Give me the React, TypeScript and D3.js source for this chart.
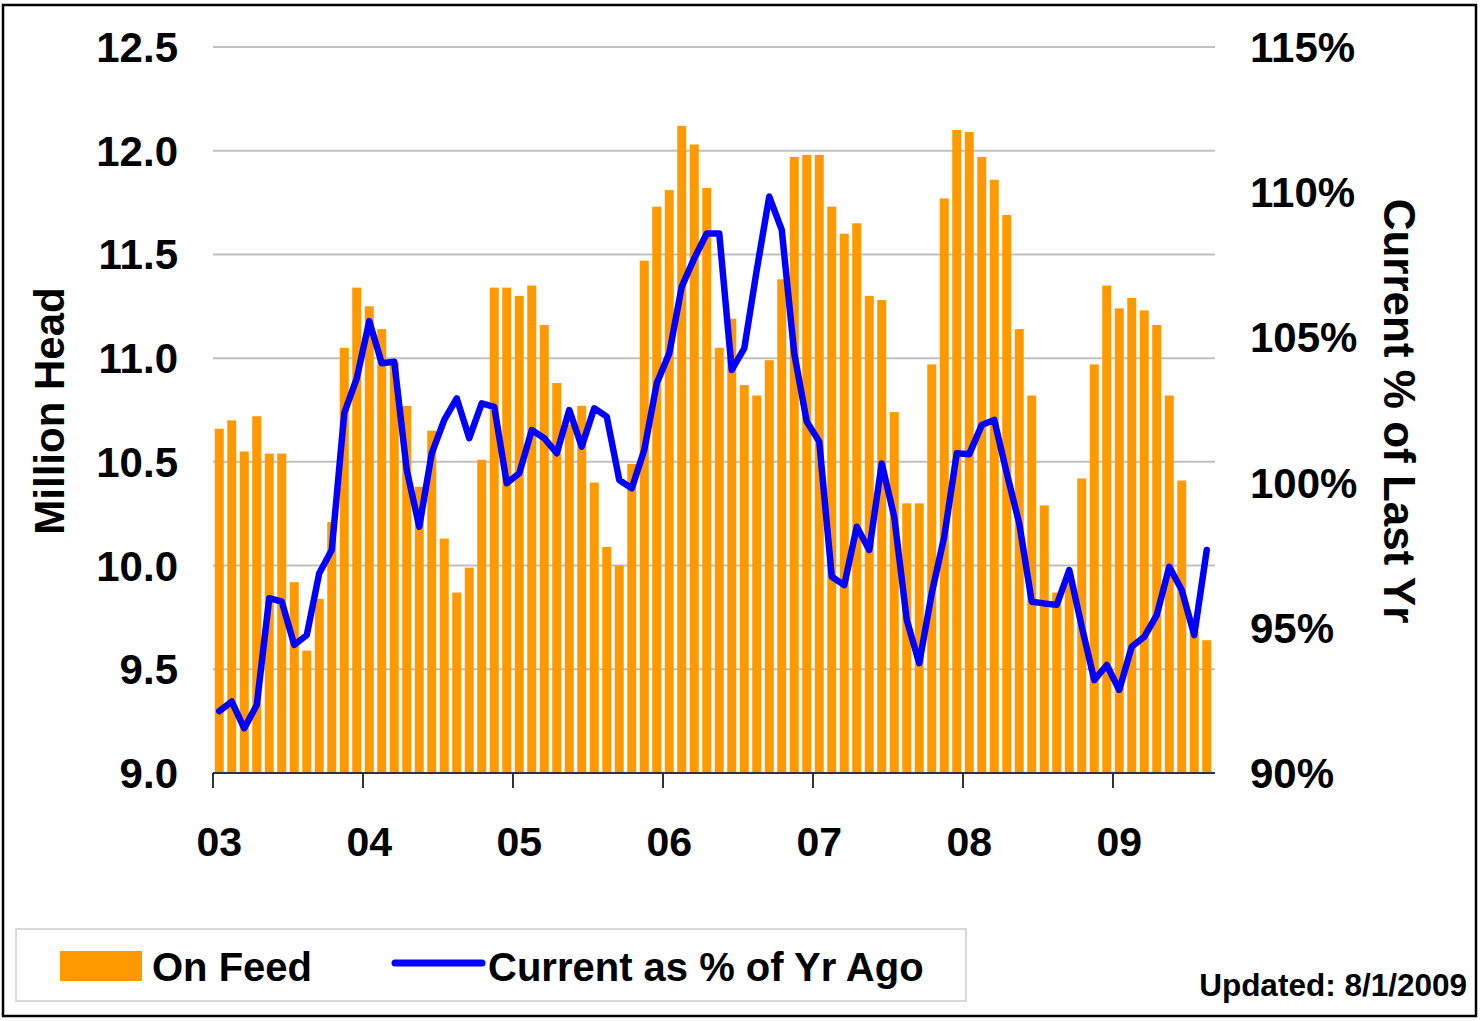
import React from "react";
import * as d3 from "d3";

// Monthly, Jan 2003 .. Aug 2009
const startYear = 2003;
const onFeed: number[] = [
  10.66, 10.70, 10.55, 10.72, 10.54, 10.54, 9.92, 9.59, 9.84, 10.21, 11.05, 11.34,
  11.25, 11.14, 10.98, 10.77, 10.38, 10.65, 10.13, 9.87, 9.99, 10.51, 11.34, 11.34,
  11.30, 11.35, 11.16, 10.88, 10.68, 10.77, 10.40, 10.09, 10.00, 10.49, 11.47, 11.73,
  11.81, 12.12, 12.03, 11.82, 11.05, 11.19, 10.87, 10.82, 10.99, 11.38, 11.97, 11.98,
  11.98, 11.73, 11.60, 11.65, 11.30, 11.28, 10.74, 10.30, 10.30, 10.97, 11.77, 12.10,
  12.09, 11.97, 11.86, 11.69, 11.14, 10.82, 10.29, 9.87, 9.95, 10.42, 10.97, 11.35,
  11.24, 11.29, 11.23, 11.16, 10.82, 10.41, 9.68, 9.64,
];
const pctOfYrAgo: number[] = [
  92.13, 92.46, 91.54, 92.34, 96.02, 95.9, 94.41, 94.75, 96.88, 97.68, 102.39, 103.59,
  105.56, 104.11, 104.16, 100.43, 98.48, 101.01, 102.16, 102.9, 101.53, 102.73, 102.61, 99.98,
  100.32, 101.81, 101.53, 101.01, 102.5, 101.24, 102.56, 102.27, 100.09, 99.8, 101.12, 103.42,
  104.45, 106.75, 107.72, 108.58, 108.58, 103.88, 104.62, 107.32, 109.85, 108.7, 104.45, 102.1,
  101.41, 96.76, 96.47, 98.48, 97.68, 100.66, 98.82, 95.27, 93.78, 96.19, 98.14, 101.01,
  100.98, 101.98, 102.16, 100.32, 98.59, 95.9, 95.84, 95.79, 96.99, 95.04, 93.2, 93.72,
  92.86, 94.35, 94.69, 95.44, 97.1, 96.3, 94.75, 97.68,
];
const leftTicks: number[] = [9.0, 9.5, 10.0, 10.5, 11.0, 11.5, 12.0, 12.5];
const rightTicks: number[] = [90, 95, 100, 105, 110, 115];
const yearLabels: string[] = ["03", "04", "05", "06", "07", "08", "09"];

const FONT = "'Liberation Sans', Arial, Helvetica, sans-serif";
const ORANGE = "#FF9900";
const BLUE = "#0000FF";

export default function App() {
  const W = 1480;
  const H = 1021;
  const x0 = 213;
  const x1 = 1213;
  const yTop = 47;
  const yBot = 773;

  const idx = onFeed.map((_, i) => i);
  const x = d3.scaleBand<number>().domain(idx).range([x0, x1]).paddingInner(0.28).paddingOuter(0.14);
  const step = x.step();
  const yL = d3.scaleLinear().domain([9, 12.5]).range([yBot, yTop]);
  const yR = d3.scaleLinear().domain([90, 115]).range([yBot, yTop]);

  const line = d3
    .line<number>()
    .x((_, i) => (x(i) as number) + x.bandwidth() / 2)
    .y((d) => yR(d));

  const fmtL = d3.format(".1f");

  return (
    <div style={{ position: "absolute", left: 0, top: 0 }}>
      <svg width={W} height={H} style={{ display: "block", background: "#fff" }} fontFamily={FONT}>
        <rect x={0} y={0} width={W} height={H} fill="#fff" />
        <rect x={3} y={5} width={W - 7} height={H - 10} fill="none" stroke="#000" strokeWidth={2.5} />

        {/* gridlines */}
        {leftTicks.slice(1).map((t) => (
          <line key={"g" + t} x1={x0} x2={x1 + 2} y1={yL(t)} y2={yL(t)} stroke="#c0c0c0" strokeWidth={2} />
        ))}

        {/* bars */}
        {onFeed.map((v, i) => (
          <rect
            key={"b" + i}
            x={x(i) as number}
            y={yL(v)}
            width={x.bandwidth()}
            height={yL(9) - yL(v)}
            fill={ORANGE}
          />
        ))}

        {/* axis */}
        <line x1={x0} x2={x1 + 2} y1={yBot} y2={yBot} stroke="#333" strokeWidth={2} />
        {yearLabels.map((lab, k) => {
          const tx = x0 + k * 12 * step;
          const lx = (x(k * 12) as number) + x.bandwidth() / 2;
          return (
            <g key={"yr" + lab}>
              <line x1={tx} x2={tx} y1={yBot} y2={yBot + 15} stroke="#333" strokeWidth={2} />
              <text x={lx} y={856} textAnchor="middle" fontSize={41} fontWeight="bold" fill="#000">
                {lab}
              </text>
            </g>
          );
        })}

        {/* line */}
        <path d={line(pctOfYrAgo) || ""} fill="none" stroke={BLUE} strokeWidth={6.5} strokeLinejoin="round" strokeLinecap="round" />

        {/* left ticks */}
        {leftTicks.map((t) => (
          <text key={"l" + t} x={178} y={yL(t) + 15} textAnchor="end" fontSize={42} fontWeight="bold" fill="#000">
            {fmtL(t)}
          </text>
        ))}
        {/* right ticks */}
        {rightTicks.map((t) => (
          <text key={"r" + t} x={1250} y={yR(t) + 15} textAnchor="start" fontSize={42} fontWeight="bold" fill="#000">
            {t + "%"}
          </text>
        ))}

        <text transform="translate(64,411) rotate(-90)" textAnchor="middle" fontSize={42} fontWeight="bold" fill="#000">
          Million Head
        </text>
        <text transform="translate(1384,411) rotate(90)" textAnchor="middle" fontSize={44} fontWeight="bold" fill="#000">
          Current % of Last Yr
        </text>

        {/* legend */}
        <rect x={16} y={929} width={950} height={72} fill="#fff" stroke="#d9d9d9" strokeWidth={2} />
        <rect x={60} y={951} width={82} height={30} fill={ORANGE} />
        <text x={152} y={981} fontSize={40} fontWeight="bold" fill="#000">On Feed</text>
        <line x1={395} x2={482} y1={963} y2={963} stroke={BLUE} strokeWidth={7} strokeLinecap="round" />
        <text x={488} y={981} fontSize={40} fontWeight="bold" fill="#000">Current as % of Yr Ago</text>

        <text x={1467} y={996} textAnchor="end" fontSize={31.5} fontWeight="bold" fill="#000">
          Updated: 8/1/2009
        </text>
      </svg>
    </div>
  );
}
